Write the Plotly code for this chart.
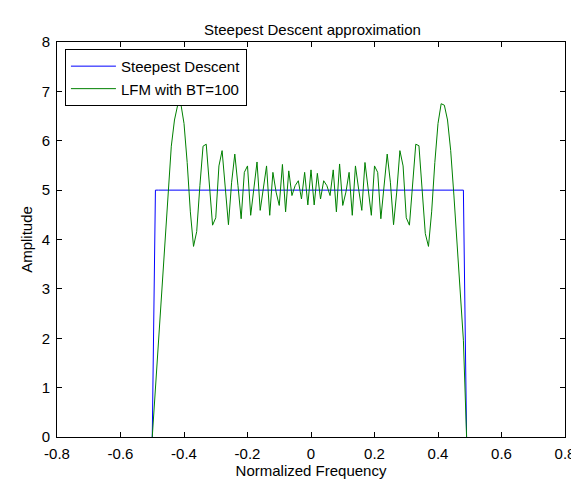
import plotly.graph_objects as go

# Normalized frequency grid (-0.50 ... 0.49, step 0.01)
freq = [round(-0.50 + 0.01 * i, 2) for i in range(100)]

# Steepest descent (ideal rectangular spectrum)
steepest = [0.0] + [5.0] * 98 + [0.0]

# LFM spectrum with BT=100
lfm = [
    0.00, 0.98, 1.96, 2.94, 3.92, 4.90, 5.89, 6.42, 6.72, 6.75,   # -0.50 .. -0.41
    6.35, 5.56, 4.56, 3.86, 4.16, 5.09, 5.89, 5.93, 5.09, 4.29,   # -0.40 .. -0.31
    4.44, 5.49, 5.80, 4.96, 4.30, 5.16, 5.73, 5.09, 4.42, 5.36,   # -0.30 .. -0.21
    5.49, 4.49, 5.02, 5.57, 4.59, 5.02, 5.49, 4.49, 5.36, 4.96,   # -0.20 .. -0.11
    4.69, 5.52, 4.56, 5.39, 4.89, 5.09, 5.19, 4.82, 5.36, 4.70,   # -0.10 .. -0.01
    5.41, 4.70, 5.34, 4.82, 5.19, 5.09, 4.89, 5.41, 4.56, 5.53,   #  0.00 ..  0.09
    4.69, 4.96, 5.36, 4.49, 5.49, 5.02, 4.59, 5.56, 5.02, 4.49,   #  0.10 ..  0.19
    5.49, 5.36, 4.42, 5.09, 5.73, 5.16, 4.30, 4.96, 5.80, 5.49,   #  0.20 ..  0.29
    4.44, 4.29, 5.09, 5.93, 5.90, 5.09, 4.12, 3.86, 4.56, 5.56,   #  0.30 ..  0.39
    6.35, 6.75, 6.72, 6.42, 5.80, 4.90, 3.92, 2.94, 1.96, 0.00,   #  0.40 ..  0.49
]

x_tickvals = [-0.8, -0.6, -0.4, -0.2, 0, 0.2, 0.4, 0.6, 0.8]
x_ticktext = ["-0.8", "-0.6", "-0.4", "-0.2", "0", "0.2", "0.4", "0.6", "0.8"]
y_tickvals = [0, 1, 2, 3, 4, 5, 6, 7, 8]
y_ticktext = ["0", "1", "2", "3", "4", "5", "6", "7", "8"]

FONT = "Liberation Sans, Arial, sans-serif"

fig = go.Figure()
fig.add_trace(go.Scatter(x=freq, y=steepest, mode="lines", name="Steepest Descent",
                         line=dict(color="#0000FF", width=1)))
fig.add_trace(go.Scatter(x=freq, y=lfm, mode="lines", name="LFM with BT=100",
                         line=dict(color="#008000", width=1)))

W, H = 579, 480
L, R, T, B = 49, 19, 34, 45

axis_common = dict(showline=True, linecolor="black", linewidth=1, mirror="ticks",
                   ticks="inside", ticklen=5, tickcolor="black", tickwidth=1,
                   showgrid=False, zeroline=False,
                   tickfont=dict(family=FONT, size=15, color="black"))

fig.update_layout(
    width=W, height=H,
    margin=dict(l=L, r=R, t=T, b=B),
    paper_bgcolor="white", plot_bgcolor="white",
    font=dict(family=FONT, size=15, color="black"),
    title=dict(text="Steepest Descent approximation", x=(L + (W - L - R) / 2) / W,
               xanchor="center", y=1 - 27 / H, yanchor="bottom", yref="container",
               font=dict(family=FONT, size=15, color="black")),
    xaxis=dict(range=[-0.8, 0.8], tickvals=x_tickvals, ticktext=x_ticktext,
               ticklabelstandoff=3,
               title=dict(text="Normalized Frequency", standoff=3,
                          font=dict(family=FONT, size=15, color="black")),
               **axis_common),
    yaxis=dict(range=[0, 8], tickvals=y_tickvals, ticktext=y_ticktext,
               ticklabelstandoff=3,
               title=dict(text="Amplitude", standoff=5,
                          font=dict(family=FONT, size=15, color="black")),
               **axis_common),
    legend=dict(x=(57 - L) / (W - L - R), y=1 - (41 - T) / (H - T - B),
                xanchor="left", yanchor="top",
                bgcolor="white", bordercolor="black", borderwidth=1,
                font=dict(family=FONT, size=15, color="black"),
                itemwidth=45, tracegroupgap=0),
    showlegend=True,
)

fig.write_html("out.html")
